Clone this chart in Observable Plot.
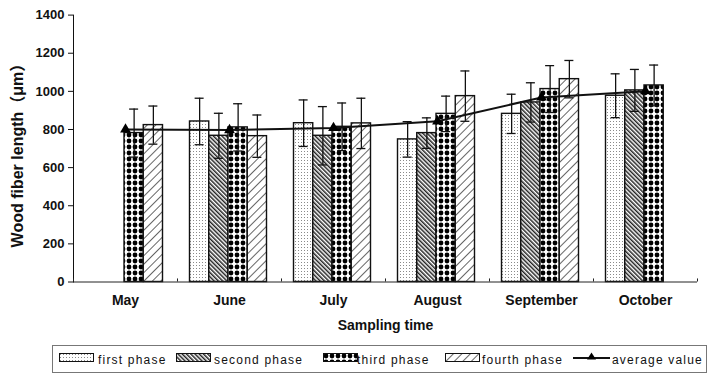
<!DOCTYPE html>
<html>
<head>
<meta charset="utf-8">
<script src="https://cdn.jsdelivr.net/npm/d3@7"></script>
<script src="https://cdn.jsdelivr.net/npm/@observablehq/plot@0.6"></script>
<style>
  html, body { margin: 0; padding: 0; background: white; }
  #wrap { position: relative; width: 708px; height: 374px; background: white; font-family: "Liberation Sans", Arial, sans-serif; }
  #legend { position: absolute; left: 52px; top: 345px; width: 655px; height: 28px; box-sizing: border-box; border: 1px solid #777; }
  .lg { position: absolute; font-size: 12px; line-height: 14px; letter-spacing: 1.2px; color: #111; white-space: nowrap; }
  .sw { position: absolute; }
</style>
</head>
<body>
<div id="wrap">
  <div id="chart"></div>
  <div id="legend"></div>
</div>
<script>
// ---- data ----
const months = ["May", "June", "July", "August", "September", "October"];
const phases = ["first phase", "second phase", "third phase", "fourth phase"];
const firstPhase  = [null, 842, 833, 748, 882, 977];
const secondPhase = [null, 767, 767, 781, 942, 1005];
const thirdPhase  = [781, 811, 814, 882, 1012, 1031];
const fourthPhase = [823, 765, 832, 975, 1064, null];
const firstErr  = [null, 122, 122, 93, 103, 115];
const secondErr = [null, 118, 153, 80, 103, 110];
const thirdErr  = [126, 124, 125, 93, 123, 107];
const fourthErr = [100, 111, 132, 132, 98, null];
const averageValue = [800, 797, 808, 843, 968, 1001];
const yTicks = [0, 200, 400, 600, 800, 1000, 1200, 1400];

const seriesValues = [firstPhase, secondPhase, thirdPhase, fourthPhase];
const seriesErrs = [firstErr, secondErr, thirdErr, fourthErr];

// ---- layout ----
const W = 708, H = 340;
const mL = 73, mR = 11, mT = 14.6, mB = 58.5;
const band = (W - mL - mR) / months.length; // 104
const padOuter = 12.5;
const barW = (band - 2 * padOuter - 2) / 4;
const capHalf = 4.5;

const marks = [];
// bars
seriesValues.forEach((vals, j) => {
  const rows = months.map((m, i) => ({month: m, value: vals[i]})).filter(d => d.value != null);
  marks.push(Plot.barY(rows, {
    x: "month", y: "value",
    fill: `url(#pat${j})`, stroke: "#111", strokeWidth: 1.4,
    insetLeft: padOuter + j * barW,
    insetRight: band - padOuter - (j + 1) * barW
  }));
});
// error bars
seriesValues.forEach((vals, j) => {
  const rows = months.map((m, i) => ({month: m, value: vals[i], err: seriesErrs[j][i]})).filter(d => d.value != null);
  const off = -band / 2 + padOuter + (j + 0.5) * barW;
  marks.push(Plot.ruleX(rows, {x: "month", y1: d => d.value - d.err, y2: d => d.value + d.err, dx: off, stroke: "#111", strokeWidth: 1.3}));
  for (const sgn of [1, -1]) {
    marks.push(Plot.tickY(rows, {x: "month", y: d => d.value + sgn * d.err, stroke: "#111", strokeWidth: 1.3,
      insetLeft: band / 2 + off - capHalf, insetRight: band / 2 - off - capHalf}));
  }
});
// axis lines & category separators
marks.push(Plot.ruleY([0], {stroke: "#222", strokeWidth: 1}));
marks.push(Plot.ruleX(months, {x: d => d, dx: -band / 2, y1: 0, y2: 16, stroke: "#222"}));
marks.push(Plot.ruleX([months[months.length - 1]], {x: d => d, dx: band / 2, y1: 0, y2: 16, stroke: "#222"}));
// average line
const avgRows = months.map((m, i) => ({month: m, value: averageValue[i]}));
marks.push(Plot.line(avgRows, {x: "month", y: "value", stroke: "#111", strokeWidth: 2}));
marks.push(Plot.dot(avgRows, {x: "month", y: "value", symbol: "triangle", r: 4, fill: "#000", stroke: "none"}));
// axis titles
marks.push(Plot.text(["Sampling time"], {text: d => d, frameAnchor: "bottom", dy: 48, fontSize: 14, fontWeight: "bold"}));
marks.push(Plot.text(["Wood fiber length（μm）"], {text: d => d, frameAnchor: "left", textAnchor: "middle", dx: -56, dy: 3, rotate: -90, fontSize: 16, fontWeight: "bold"}));

const svg = Plot.plot({
  width: W, height: H,
  marginLeft: mL, marginRight: mR, marginTop: mT, marginBottom: mB,
  style: {fontFamily: "'Liberation Sans', Arial, 'Noto Sans CJK SC', sans-serif", fontSize: "13px", fontWeight: "bold", background: "white", color: "#111", overflow: "visible"},
  x: {domain: months, padding: 0, tickSize: 0, tickPadding: 13, label: null},
  y: {domain: [0, 1400], ticks: yTicks, tickFormat: d => String(d), tickSize: 5, tickPadding: 4, line: true, label: null},
  marks
});

const defs = `
<defs>
  <pattern id="pat0" width="3" height="3" patternUnits="userSpaceOnUse">
    <rect width="3" height="3" fill="white"/>
    <rect x="1" y="1" width="1" height="1" fill="#8a8a8a"/>
  </pattern>
  <pattern id="pat1" width="3" height="3" patternUnits="userSpaceOnUse" patternTransform="rotate(-45)">
    <rect width="3" height="3" fill="white"/>
    <rect x="0" y="0" width="1.5" height="3" fill="#222"/>
  </pattern>
  <pattern id="pat2" width="6" height="6" patternUnits="userSpaceOnUse">
    <rect width="6" height="6" fill="white"/>
    <circle cx="3" cy="3" r="2.4" fill="#000"/>
  </pattern>
  <pattern id="pat3" width="6" height="6" patternUnits="userSpaceOnUse" patternTransform="rotate(45)">
    <rect width="6" height="6" fill="white"/>
    <rect x="0" y="0" width="1" height="6" fill="#666"/>
  </pattern>
</defs>`;
svg.insertAdjacentHTML("afterbegin", defs);
// month tick labels a little larger
svg.querySelectorAll("[aria-label='x-axis'] text, g[aria-label='x-axis tick label'] text").forEach(t => t.setAttribute("font-size", "14"));
document.getElementById("chart").appendChild(svg);

// ---- legend ----
const legend = document.getElementById("legend");
const swX = [59, 176, 323, 445];
const txX = [98, 214, 357, 482];
const lx = v => v - 53; // relative to legend padding box
phases.forEach((p, j) => {
  legend.insertAdjacentHTML("beforeend",
    `<svg class="sw" style="left:${lx(swX[j])}px; top:7px" width="36" height="9"><rect x="0.5" y="0.5" width="34" height="8" fill="url(#pat${j})" stroke="#111"/></svg>` +
    `<span class="lg" style="left:${lx(txX[j])}px; top:7px">${p}</span>`);
});
legend.insertAdjacentHTML("beforeend",
  `<svg class="sw" style="left:${lx(573)}px; top:4px" width="38" height="14"><line x1="0" y1="8" x2="37" y2="8" stroke="#111" stroke-width="2"/><path d="M18.5,2.5 L23,9.5 L14,9.5 Z" fill="#000"/></svg>` +
  `<span class="lg" style="left:${lx(612)}px; top:7px">average value</span>`);
</script>
</body>
</html>
